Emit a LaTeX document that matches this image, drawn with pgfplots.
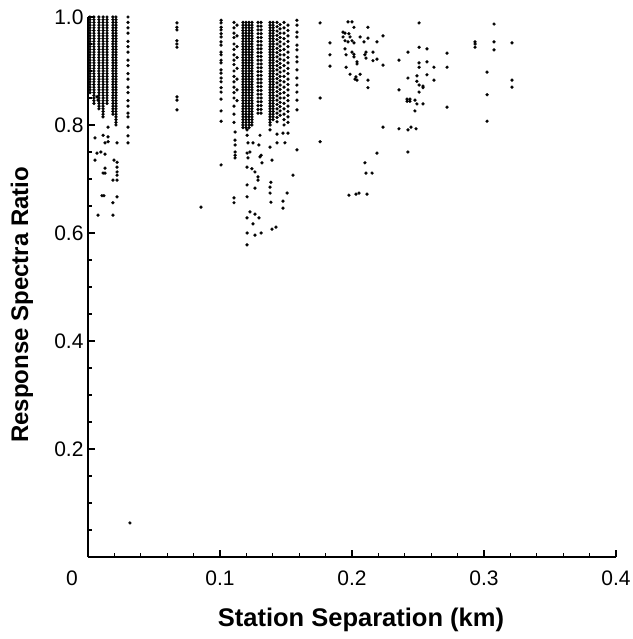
\documentclass[border=0pt]{standalone}
\usepackage{pgfplots}
\pgfplotsset{compat=1.18}
\usepackage{fontspec}
\setmainfont{Liberation Sans}
\begin{document}
\begin{tikzpicture}
\begin{axis}[
 scale only axis, width=528bp, height=540bp,
 xmin=0, xmax=0.4, ymin=0, ymax=1,
 axis x line*=bottom, axis y line*=left,
 axis line style={-, line width=1.7bp},
 xtick={0,0.1,0.2,0.3,0.4}, xticklabels={,0.1,0.2,0.3,0.4},
 extra x ticks={0}, extra x tick labels={0},
 extra x tick style={major tick length=0pt, xticklabel style={xshift=-16bp}},
 ytick={0.2,0.4,0.6,0.8,1.0}, yticklabels={0.2,0.4,0.6,0.8,1.0},
 minor xtick={0.02,0.04,0.06,0.08,0.12,0.14,0.16,0.18,0.22,0.24,0.26,0.28,0.32,0.34,0.36,0.38},
 minor ytick={0.05,0.1,0.15,0.25,0.3,0.35,0.45,0.5,0.55,0.65,0.7,0.75,0.85,0.9,0.95},
 tick align=inside, major tick length=7bp, minor tick length=4.5bp,
 every tick/.style={black, line width=1.3bp},
 tick label style={font=\fontsize{21bp}{21bp}\selectfont},
 xticklabel style={yshift=-10bp},
 yticklabel style={xshift=-1bp},
 xlabel={Station Separation (km)}, ylabel={Response Spectra Ratio},
 xlabel style={font=\fontsize{25.5bp}{25.5bp}\selectfont\bfseries, at={(axis description cs:0.517,-0.1167)}, anchor=center},
 ylabel style={font=\fontsize{24bp}{24bp}\selectfont\bfseries, at={(axis description cs:-0.125,0.467)}, anchor=center},
 clip=false,
]
% dense columns, left group
\addplot[only marks, mark=*, mark size=1.45bp, black] coordinates {
(0.0015,1.000)(0.0015,0.995)(0.0015,0.990)(0.0015,0.985)(0.0015,0.980)(0.0015,0.975)(0.0015,0.970)(0.0015,0.965)(0.0015,0.960)(0.0015,0.955)(0.0015,0.950)(0.0015,0.945)(0.0015,0.940)(0.0015,0.935)(0.0015,0.930)(0.0015,0.925)(0.0015,0.920)(0.0015,0.915)(0.0015,0.910)(0.0015,0.905)(0.0015,0.900)(0.0015,0.895)(0.0015,0.890)(0.0015,0.885)(0.0015,0.880)(0.0015,0.875)(0.0015,0.870)(0.0015,0.865)(0.0015,0.860)
(0.0045,1.000)(0.0045,0.995)(0.0045,0.990)(0.0045,0.985)(0.0045,0.980)(0.0045,0.975)(0.0045,0.970)(0.0045,0.965)(0.0045,0.960)(0.0045,0.955)(0.0045,0.950)(0.0045,0.945)(0.0045,0.940)(0.0045,0.935)(0.0045,0.930)(0.0045,0.925)(0.0045,0.920)(0.0045,0.915)(0.0045,0.910)(0.0045,0.905)(0.0045,0.900)(0.0045,0.895)(0.0045,0.890)(0.0045,0.885)(0.0045,0.880)(0.0045,0.875)(0.0045,0.870)(0.0045,0.865)(0.0045,0.860)(0.0045,0.855)(0.0045,0.850)(0.0045,0.845)(0.0045,0.840)
(0.0083,1.000)(0.0083,0.995)(0.0083,0.990)(0.0083,0.985)(0.0083,0.980)(0.0083,0.975)(0.0083,0.970)(0.0083,0.965)(0.0083,0.960)(0.0083,0.955)(0.0083,0.950)(0.0083,0.945)(0.0083,0.940)(0.0083,0.935)(0.0083,0.930)(0.0083,0.925)(0.0083,0.920)(0.0083,0.915)(0.0083,0.910)(0.0083,0.905)(0.0083,0.900)(0.0083,0.895)(0.0083,0.890)(0.0083,0.885)(0.0083,0.880)(0.0083,0.875)(0.0083,0.870)(0.0083,0.865)(0.0083,0.860)(0.0083,0.855)(0.0083,0.850)(0.0083,0.845)(0.0083,0.840)(0.0083,0.835)(0.0083,0.830)
(0.0114,1.000)(0.0114,0.995)(0.0114,0.990)(0.0114,0.985)(0.0114,0.980)(0.0114,0.975)(0.0114,0.970)(0.0114,0.965)(0.0114,0.960)(0.0114,0.955)(0.0114,0.950)(0.0114,0.945)(0.0114,0.940)(0.0114,0.935)(0.0114,0.930)(0.0114,0.925)(0.0114,0.920)(0.0114,0.915)(0.0114,0.910)(0.0114,0.905)(0.0114,0.900)(0.0114,0.895)(0.0114,0.890)(0.0114,0.885)(0.0114,0.880)(0.0114,0.875)(0.0114,0.870)(0.0114,0.865)(0.0114,0.860)(0.0114,0.855)(0.0114,0.850)(0.0114,0.845)(0.0114,0.840)(0.0114,0.835)(0.0114,0.830)(0.0114,0.825)(0.0114,0.820)
(0.0144,1.000)(0.0144,0.995)(0.0144,0.990)(0.0144,0.985)(0.0144,0.980)(0.0144,0.975)(0.0144,0.970)(0.0144,0.965)(0.0144,0.960)(0.0144,0.955)(0.0144,0.950)(0.0144,0.945)(0.0144,0.940)(0.0144,0.935)(0.0144,0.930)(0.0144,0.925)(0.0144,0.920)(0.0144,0.915)(0.0144,0.910)(0.0144,0.905)(0.0144,0.900)(0.0144,0.895)(0.0144,0.890)(0.0144,0.885)(0.0144,0.880)(0.0144,0.875)(0.0144,0.870)(0.0144,0.865)(0.0144,0.860)(0.0144,0.855)(0.0144,0.850)(0.0144,0.845)(0.0144,0.840)
(0.0189,1.000)(0.0189,0.995)(0.0189,0.990)(0.0189,0.985)(0.0189,0.980)(0.0189,0.975)(0.0189,0.970)(0.0189,0.965)(0.0189,0.960)(0.0189,0.955)(0.0189,0.950)(0.0189,0.945)(0.0189,0.940)(0.0189,0.935)(0.0189,0.930)(0.0189,0.925)(0.0189,0.920)(0.0189,0.915)(0.0189,0.910)(0.0189,0.905)(0.0189,0.900)(0.0189,0.895)(0.0189,0.890)(0.0189,0.885)(0.0189,0.880)(0.0189,0.875)(0.0189,0.870)(0.0189,0.865)(0.0189,0.860)(0.0189,0.855)(0.0189,0.850)(0.0189,0.845)(0.0189,0.840)(0.0189,0.835)(0.0189,0.830)(0.0189,0.825)(0.0189,0.820)
(0.0212,1.000)(0.0212,0.995)(0.0212,0.990)(0.0212,0.985)(0.0212,0.980)(0.0212,0.975)(0.0212,0.970)(0.0212,0.965)(0.0212,0.960)(0.0212,0.955)(0.0212,0.950)(0.0212,0.945)(0.0212,0.940)(0.0212,0.935)(0.0212,0.930)(0.0212,0.925)(0.0212,0.920)(0.0212,0.915)(0.0212,0.910)(0.0212,0.905)(0.0212,0.900)(0.0212,0.895)(0.0212,0.890)(0.0212,0.885)(0.0212,0.880)(0.0212,0.875)(0.0212,0.870)(0.0212,0.865)(0.0212,0.860)(0.0212,0.855)(0.0212,0.850)(0.0212,0.845)(0.0212,0.840)(0.0212,0.835)(0.0212,0.830)(0.0212,0.825)(0.0212,0.820)(0.0212,0.815)(0.0212,0.810)(0.0212,0.805)(0.0212,0.800)
(0.0303,1.000)(0.0303,0.990)(0.0303,0.980)(0.0303,0.970)(0.0303,0.955)(0.0303,0.945)(0.0303,0.935)(0.0303,0.920)(0.0303,0.910)(0.0303,0.895)(0.0303,0.885)(0.0303,0.870)(0.0303,0.860)(0.0303,0.845)(0.0303,0.835)(0.0303,0.822)(0.0303,0.815)(0.0303,0.796)(0.0303,0.780)(0.0303,0.767)
};
% left group, scattered lower points
\addplot[only marks, mark=*, mark size=1.45bp, black] coordinates {
(0.0053,0.776)(0.0129,0.767)(0.0152,0.769)(0.0220,0.767)(0.0098,0.750)(0.0068,0.748)(0.0129,0.746)
(0.0053,0.735)(0.0197,0.735)(0.0220,0.731)(0.0129,0.720)(0.0220,0.722)(0.0220,0.713)(0.0114,0.711)
(0.0129,0.711)(0.0220,0.707)(0.0189,0.698)(0.0220,0.698)(0.0106,0.669)(0.0121,0.669)(0.0220,0.667)
(0.0189,0.656)(0.0076,0.633)(0.0189,0.633)(0.0318,0.063)(0.0856,0.648)
(0.0068,0.852)(0.0076,0.846)(0.0114,0.815)(0.0152,0.796)(0.0114,0.781)(0.0152,0.778)
};
% column near 0.07
\addplot[only marks, mark=*, mark size=1.45bp, black] coordinates {
(0.0674,0.989)(0.0674,0.981)(0.0674,0.976)(0.0674,0.956)(0.0674,0.950)(0.0674,0.944)(0.0674,0.852)(0.0674,0.846)(0.0674,0.828)
};
% middle group dense columns
\addplot[only marks, mark=*, mark size=1.45bp, black] coordinates {
(0.1008,0.994)(0.1008,0.989)(0.1008,0.981)(0.1008,0.976)(0.1008,0.969)(0.1008,0.963)(0.1008,0.954)(0.1008,0.948)(0.1008,0.935)(0.1008,0.930)(0.1008,0.920)(0.1008,0.915)(0.1008,0.902)(0.1008,0.896)(0.1008,0.887)(0.1008,0.880)(0.1008,0.869)(0.1008,0.861)(0.1008,0.848)(0.1008,0.826)(0.1008,0.807)(0.1008,0.726)
(0.1106,0.990)(0.1106,0.980)(0.1106,0.970)(0.1106,0.962)(0.1106,0.950)(0.1106,0.940)(0.1106,0.930)(0.1106,0.920)(0.1106,0.912)(0.1106,0.900)(0.1106,0.890)(0.1106,0.880)(0.1106,0.870)(0.1106,0.860)(0.1106,0.850)(0.1106,0.835)(0.1106,0.820)(0.1106,0.805)(0.1106,0.665)(0.1106,0.656)
(0.1129,0.985)(0.1129,0.965)(0.1129,0.945)(0.1129,0.925)(0.1129,0.905)(0.1129,0.885)(0.1129,0.865)(0.1129,0.845)
(0.1114,0.787)(0.1114,0.772)(0.1114,0.763)(0.1114,0.750)(0.1114,0.744)(0.1114,0.739)
(0.1174,0.990)(0.1174,0.985)(0.1174,0.980)(0.1174,0.975)(0.1174,0.970)(0.1174,0.965)(0.1174,0.960)(0.1174,0.955)(0.1174,0.950)(0.1174,0.945)(0.1174,0.940)(0.1174,0.935)(0.1174,0.930)(0.1174,0.925)(0.1174,0.920)(0.1174,0.915)(0.1174,0.910)(0.1174,0.905)(0.1174,0.900)(0.1174,0.895)(0.1174,0.890)(0.1174,0.885)(0.1174,0.880)(0.1174,0.875)(0.1174,0.870)(0.1174,0.865)(0.1174,0.860)(0.1174,0.855)(0.1174,0.850)(0.1174,0.845)(0.1174,0.840)(0.1174,0.835)(0.1174,0.830)(0.1174,0.825)(0.1174,0.820)(0.1174,0.815)(0.1174,0.810)(0.1174,0.805)(0.1174,0.800)(0.1174,0.795)
(0.1197,0.990)(0.1197,0.985)(0.1197,0.980)(0.1197,0.975)(0.1197,0.970)(0.1197,0.965)(0.1197,0.960)(0.1197,0.955)(0.1197,0.950)(0.1197,0.945)(0.1197,0.940)(0.1197,0.935)(0.1197,0.930)(0.1197,0.925)(0.1197,0.920)(0.1197,0.915)(0.1197,0.910)(0.1197,0.905)(0.1197,0.900)(0.1197,0.895)(0.1197,0.890)(0.1197,0.885)(0.1197,0.880)(0.1197,0.875)(0.1197,0.870)(0.1197,0.865)(0.1197,0.860)(0.1197,0.855)(0.1197,0.850)(0.1197,0.845)(0.1197,0.840)(0.1197,0.835)(0.1197,0.830)(0.1197,0.825)(0.1197,0.820)(0.1197,0.815)(0.1197,0.810)(0.1197,0.805)(0.1197,0.800)(0.1197,0.795)
(0.1220,0.990)(0.1220,0.985)(0.1220,0.980)(0.1220,0.975)(0.1220,0.970)(0.1220,0.965)(0.1220,0.960)(0.1220,0.955)(0.1220,0.950)(0.1220,0.945)(0.1220,0.940)(0.1220,0.935)(0.1220,0.930)(0.1220,0.925)(0.1220,0.920)(0.1220,0.915)(0.1220,0.910)(0.1220,0.905)(0.1220,0.900)(0.1220,0.895)(0.1220,0.890)(0.1220,0.885)(0.1220,0.880)(0.1220,0.875)(0.1220,0.870)(0.1220,0.865)(0.1220,0.860)(0.1220,0.855)(0.1220,0.850)(0.1220,0.845)(0.1220,0.840)(0.1220,0.835)(0.1220,0.830)(0.1220,0.825)(0.1220,0.820)(0.1220,0.815)(0.1220,0.810)(0.1220,0.805)(0.1220,0.800)(0.1220,0.795)
(0.1242,0.990)(0.1242,0.985)(0.1242,0.980)(0.1242,0.975)(0.1242,0.970)(0.1242,0.965)(0.1242,0.960)(0.1242,0.955)(0.1242,0.950)(0.1242,0.945)(0.1242,0.940)(0.1242,0.935)(0.1242,0.930)(0.1242,0.925)(0.1242,0.920)(0.1242,0.915)(0.1242,0.910)(0.1242,0.905)(0.1242,0.900)(0.1242,0.895)(0.1242,0.890)(0.1242,0.885)(0.1242,0.880)(0.1242,0.875)(0.1242,0.870)(0.1242,0.865)(0.1242,0.860)(0.1242,0.855)(0.1242,0.850)(0.1242,0.845)(0.1242,0.840)(0.1242,0.835)(0.1242,0.830)(0.1242,0.825)(0.1242,0.820)(0.1242,0.815)(0.1242,0.810)(0.1242,0.805)(0.1242,0.800)
(0.1288,0.990)(0.1288,0.983)(0.1288,0.976)(0.1288,0.969)(0.1288,0.962)(0.1288,0.955)(0.1288,0.948)(0.1288,0.941)(0.1288,0.934)(0.1288,0.927)(0.1288,0.920)(0.1288,0.913)(0.1288,0.906)(0.1288,0.899)(0.1288,0.892)(0.1288,0.885)(0.1288,0.878)(0.1288,0.871)(0.1288,0.864)(0.1288,0.857)(0.1288,0.850)(0.1288,0.843)(0.1288,0.836)(0.1288,0.829)(0.1288,0.822)
(0.1311,0.990)(0.1311,0.983)(0.1311,0.976)(0.1311,0.969)(0.1311,0.962)(0.1311,0.955)(0.1311,0.948)(0.1311,0.941)(0.1311,0.934)(0.1311,0.927)(0.1311,0.920)(0.1311,0.913)(0.1311,0.906)(0.1311,0.899)(0.1311,0.892)(0.1311,0.885)(0.1311,0.878)(0.1311,0.871)(0.1311,0.864)(0.1311,0.857)(0.1311,0.850)(0.1311,0.843)(0.1311,0.836)(0.1311,0.829)(0.1311,0.822)
(0.1379,0.990)(0.1379,0.985)(0.1379,0.980)(0.1379,0.975)(0.1379,0.970)(0.1379,0.965)(0.1379,0.960)(0.1379,0.955)(0.1379,0.950)(0.1379,0.945)(0.1379,0.940)(0.1379,0.935)(0.1379,0.930)(0.1379,0.925)(0.1379,0.920)(0.1379,0.915)(0.1379,0.910)(0.1379,0.905)(0.1379,0.900)(0.1379,0.895)(0.1379,0.890)(0.1379,0.885)(0.1379,0.880)(0.1379,0.875)(0.1379,0.870)(0.1379,0.865)(0.1379,0.860)(0.1379,0.855)(0.1379,0.850)(0.1379,0.845)(0.1379,0.840)(0.1379,0.835)(0.1379,0.830)(0.1379,0.825)(0.1379,0.820)(0.1379,0.815)(0.1379,0.810)(0.1379,0.805)(0.1379,0.800)
(0.1402,0.990)(0.1402,0.985)(0.1402,0.980)(0.1402,0.975)(0.1402,0.970)(0.1402,0.965)(0.1402,0.960)(0.1402,0.955)(0.1402,0.950)(0.1402,0.945)(0.1402,0.940)(0.1402,0.935)(0.1402,0.930)(0.1402,0.925)(0.1402,0.920)(0.1402,0.915)(0.1402,0.910)(0.1402,0.905)(0.1402,0.900)(0.1402,0.895)(0.1402,0.890)(0.1402,0.885)(0.1402,0.880)(0.1402,0.875)(0.1402,0.870)(0.1402,0.865)(0.1402,0.860)(0.1402,0.855)(0.1402,0.850)(0.1402,0.845)(0.1402,0.840)(0.1402,0.835)(0.1402,0.830)(0.1402,0.825)(0.1402,0.820)(0.1402,0.815)(0.1402,0.810)
(0.1432,0.990)(0.1432,0.982)(0.1432,0.974)(0.1432,0.966)(0.1432,0.958)(0.1432,0.950)(0.1432,0.942)(0.1432,0.934)(0.1432,0.926)(0.1432,0.918)(0.1432,0.910)(0.1432,0.902)(0.1432,0.894)(0.1432,0.886)(0.1432,0.878)(0.1432,0.870)(0.1432,0.862)(0.1432,0.854)(0.1432,0.846)(0.1432,0.838)(0.1432,0.830)(0.1432,0.822)(0.1432,0.814)(0.1432,0.806)
(0.1455,0.986)(0.1455,0.978)(0.1455,0.970)(0.1455,0.962)(0.1455,0.954)(0.1455,0.946)(0.1455,0.938)(0.1455,0.930)(0.1455,0.922)(0.1455,0.914)(0.1455,0.906)(0.1455,0.898)(0.1455,0.890)(0.1455,0.882)(0.1455,0.874)(0.1455,0.866)(0.1455,0.858)(0.1455,0.850)(0.1455,0.842)(0.1455,0.834)(0.1455,0.826)(0.1455,0.818)
(0.1485,0.990)(0.1485,0.980)(0.1485,0.970)(0.1485,0.960)(0.1485,0.950)(0.1485,0.940)(0.1485,0.930)(0.1485,0.920)(0.1485,0.910)(0.1485,0.900)(0.1485,0.890)(0.1485,0.880)(0.1485,0.870)(0.1485,0.860)(0.1485,0.850)(0.1485,0.840)(0.1485,0.830)(0.1485,0.820)(0.1485,0.810)(0.1485,0.800)
(0.1515,0.985)(0.1515,0.975)(0.1515,0.965)(0.1515,0.955)(0.1515,0.945)(0.1515,0.935)(0.1515,0.925)(0.1515,0.915)(0.1515,0.905)(0.1515,0.895)(0.1515,0.885)(0.1515,0.875)(0.1515,0.865)(0.1515,0.855)(0.1515,0.845)(0.1515,0.835)(0.1515,0.825)(0.1515,0.815)(0.1515,0.805)
(0.1583,0.994)(0.1583,0.985)(0.1583,0.972)(0.1583,0.963)(0.1583,0.948)(0.1583,0.939)(0.1583,0.926)(0.1583,0.917)(0.1583,0.902)(0.1583,0.887)(0.1583,0.874)(0.1583,0.861)(0.1583,0.846)(0.1583,0.828)(0.1583,0.754)
};
% middle group, scattered lower points
\addplot[only marks, mark=*, mark size=1.45bp, black] coordinates {
(0.1205,0.791)(0.1205,0.781)(0.1212,0.767)(0.1250,0.767)(0.1205,0.748)(0.1227,0.750)(0.1212,0.739)
(0.1205,0.722)(0.1242,0.719)(0.1265,0.713)(0.1288,0.704)(0.1288,0.698)(0.1205,0.689)(0.1265,0.683)
(0.1205,0.667)(0.1227,0.639)(0.1265,0.635)(0.1205,0.628)(0.1295,0.628)(0.1250,0.617)(0.1205,0.600)
(0.1265,0.596)(0.1311,0.600)(0.1205,0.578)
(0.1303,0.781)(0.1295,0.763)(0.1311,0.744)(0.1318,0.730)(0.1303,0.741)
(0.1379,0.791)(0.1432,0.783)(0.1379,0.759)(0.1432,0.767)(0.1394,0.735)(0.1386,0.694)(0.1379,0.685)
(0.1379,0.674)(0.1386,0.657)(0.1394,0.607)(0.1424,0.611)
(0.1477,0.785)(0.1515,0.785)(0.1492,0.767)(0.1553,0.707)(0.1508,0.674)(0.1477,0.659)(0.1477,0.646)
(0.1758,0.989)(0.1833,0.952)(0.1833,0.930)(0.1833,0.909)(0.1758,0.850)(0.1758,0.769)
};
% right group
\addplot[only marks, mark=*, mark size=1.45bp, black] coordinates {
(0.1970,0.991)(0.2000,0.991)(0.2015,0.981)(0.2121,0.981)(0.1932,0.972)(0.1947,0.970)(0.1977,0.969)
(0.1932,0.963)(0.1985,0.963)(0.2061,0.963)(0.2121,0.961)(0.2235,0.965)(0.1947,0.956)(0.1970,0.954)
(0.2000,0.956)(0.2015,0.952)(0.2091,0.954)(0.2189,0.954)(0.1947,0.941)(0.2000,0.935)(0.2015,0.931)
(0.2106,0.935)(0.2159,0.935)(0.1955,0.930)(0.2015,0.926)(0.2098,0.930)(0.2106,0.924)(0.2189,0.922)
(0.2159,0.919)(0.2038,0.917)(0.2038,0.913)(0.1955,0.907)(0.2235,0.911)(0.1985,0.894)(0.2061,0.894)
(0.2030,0.889)(0.2023,0.885)(0.2038,0.883)(0.2121,0.883)(0.2121,0.869)
(0.2508,0.989)(0.2424,0.935)(0.2508,0.944)(0.2568,0.941)(0.2720,0.933)(0.2356,0.920)(0.2508,0.915)
(0.2568,0.917)(0.2508,0.907)(0.2621,0.907)(0.2720,0.907)(0.2424,0.887)(0.2492,0.891)(0.2568,0.893)
(0.2621,0.883)(0.2492,0.881)(0.2508,0.874)(0.2538,0.872)(0.2538,0.869)(0.2356,0.865)(0.2508,0.861)
(0.2417,0.848)(0.2439,0.848)(0.2417,0.844)(0.2439,0.844)(0.2477,0.846)(0.2492,0.839)(0.2538,0.839)
(0.2477,0.826)(0.2720,0.833)
(0.2235,0.796)(0.2356,0.793)(0.2424,0.791)(0.2447,0.796)(0.2485,0.793)(0.2424,0.750)(0.2189,0.748)
(0.2098,0.730)(0.2106,0.711)(0.2152,0.711)(0.1977,0.670)(0.2030,0.672)(0.2053,0.674)(0.2114,0.672)
(0.2932,0.954)(0.2932,0.950)(0.2932,0.944)(0.3076,0.987)(0.3076,0.954)(0.3212,0.952)(0.3076,0.939)
(0.3023,0.898)(0.3212,0.883)(0.3212,0.870)(0.3023,0.856)(0.3023,0.807)
};
\end{axis}
\pgfresetboundingbox
\path[use as bounding box] (-88bp,-82bp) rectangle (545bp,557bp);
\end{tikzpicture}
\end{document}
